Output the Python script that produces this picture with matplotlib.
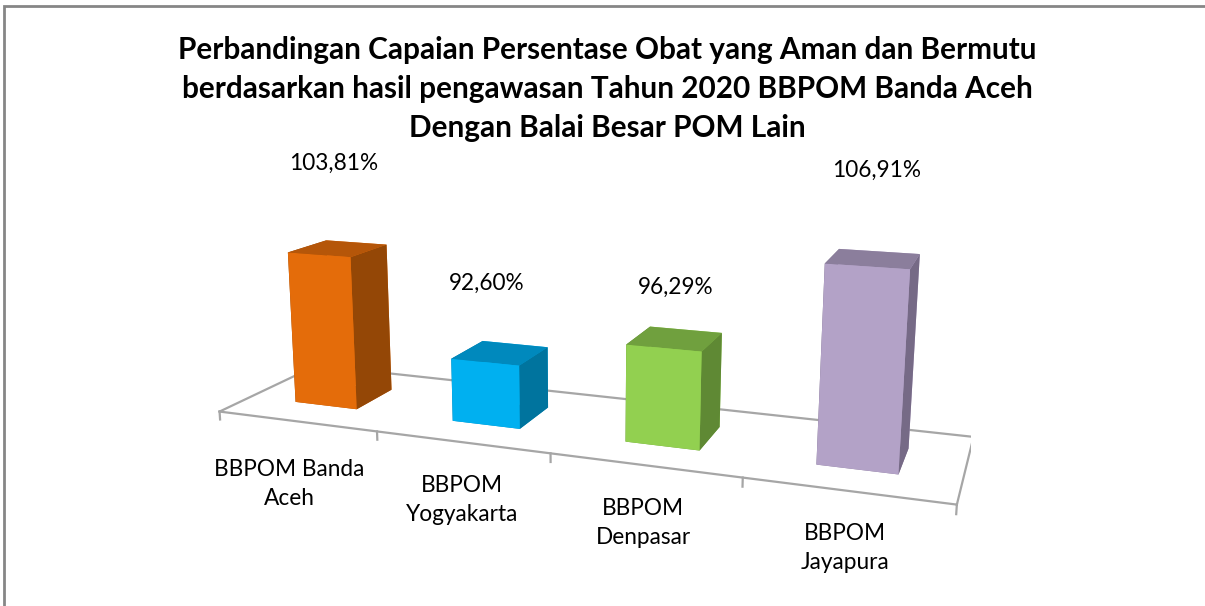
import matplotlib.pyplot as plt
from matplotlib.patches import Rectangle

# font mirip Calibri
plt.rcParams['font.family'] = ['Lato', 'DejaVu Sans']

kategori = ['BBPOM Banda\nAceh', 'BBPOM\nYogyakarta', 'BBPOM\nDenpasar', 'BBPOM\nJayapura']
capaian = [103.81, 92.60, 96.29, 106.91]
label_nilai = ['103,81%', '92,60%', '96,29%', '106,91%']

# warna tiap muka batang: depan, atas, samping kanan
warna_depan = ['#E46C0A', '#00B0F0', '#92D050', '#B3A2C7']
warna_atas = ['#B55609', '#0089BD', '#70A03E', '#8B7E9C']
warna_samping = ['#944706', '#00749E', '#5F8934', '#766A86']

z_min, z_max = 85, 115   # sumbu nilai (tidak ditampilkan)

W, H = 1205, 606
fig = plt.figure(figsize=(W / 100, H / 100), dpi=100)

# sumbu 3D dengan perspektif seperti grafik Excel (posisi dalam piksel)
S = 793.5
kiri, bawah = 177.75, -100.6
ax = fig.add_axes([kiri / W, bawah / H, S / W, S / H], projection='3d')
ax.set_facecolor('none')
ax.set_proj_type('persp', focal_length=0.3038)
ax.view_init(elev=12.816, azim=-69.664)
ax.set_box_aspect((1.0, 0.254, 0.3484))
ax.set_xlim(-0.5, len(capaian) - 0.5)
ax.set_ylim(0, 1)
ax.set_zlim(z_min, z_max)
ax.set_axis_off()

# lantai
n = len(capaian)
lantai_kw = dict(color='#A6A6A6', lw=1.6)
ax.plot([-0.5, n - 0.5], [0, 0], [z_min, z_min], **lantai_kw)
ax.plot([-0.5, n - 0.5], [1, 1], [z_min, z_min], **lantai_kw)
ax.plot([-0.5, -0.5], [0, 1], [z_min, z_min], **lantai_kw)
ax.plot([n - 0.5, n - 0.5], [0, 1], [z_min, z_min], **lantai_kw)
for i in range(n + 1):
    ax.plot([i - 0.5, i - 0.5], [0, 0], [z_min, z_min - 1.0], **lantai_kw)

# batang 3D, urutan muka: bawah, atas, depan, belakang, kiri, kanan
for i, v in enumerate(capaian):
    warna = [warna_atas[i], warna_atas[i], warna_depan[i], warna_depan[i],
             warna_samping[i], warna_samping[i]]
    ax.bar3d(i - 0.2, 0.3, z_min, 0.4, 0.4, v - z_min, color=warna, shade=False)

# judul
judul = ['Perbandingan Capaian Persentase Obat yang Aman dan Bermutu',
         'berdasarkan hasil pengawasan Tahun 2020 BBPOM Banda Aceh',
         'Dengan Balai Besar POM Lain']
for k, baris in enumerate(judul):
    fig.text(607 / W, 1 - (50 + 39 * k) / H, baris, ha='center', va='center',
             fontsize=21.4, fontweight='bold', color='black')

# label nilai (posisi seperti di Excel)
pos_nilai = [(334, 163), (487, 283), (676, 287), (877, 170)]
for (px, py), s in zip(pos_nilai, label_nilai):
    fig.text(px / W, 1 - py / H, s, ha='center', va='center', fontsize=16.3)

# label kategori
pos_kat = [(289, 484), (462, 500), (643, 523), (845, 548)]
for (px, py), s in zip(pos_kat, kategori):
    fig.text(px / W, 1 - py / H, s, ha='center', va='center', fontsize=16.3,
             linespacing=1.5)

# bingkai grafik
fig.add_artist(Rectangle((4 / W, -0.1), 1.2, 1 - 6 / H + 0.1, transform=fig.transFigure,
                         fill=False, edgecolor='#868686', lw=2))

plt.savefig('out.png', dpi=100)
